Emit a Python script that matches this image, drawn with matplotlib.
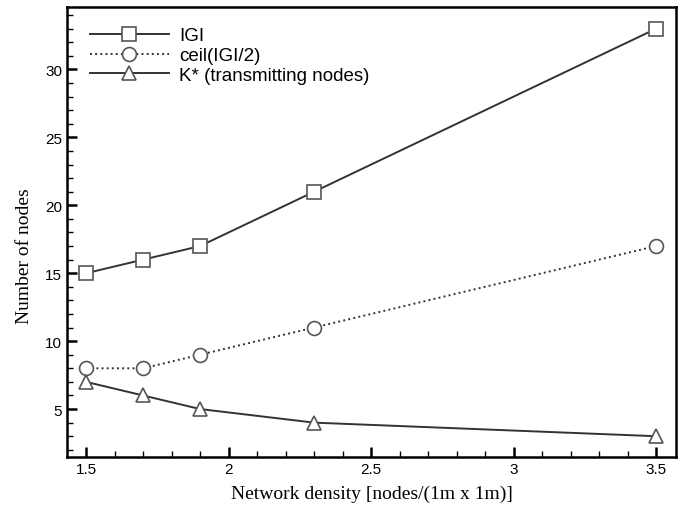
import matplotlib
matplotlib.use("Agg")
import matplotlib.pyplot as plt
from matplotlib.ticker import MultipleLocator

density = [1.5, 1.7, 1.9, 2.3, 3.5]
g_size = [15, 16, 17, 21, 33]
g_half = [8, 8, 9, 11, 17]
k_star = [7, 6, 5, 4, 3]

labels = ["IGI", "ceil(IGI/2)", "K* (transmitting nodes)"]

fig = plt.figure(figsize=(6.83, 5.10), dpi=100)
ax = fig.add_axes([67 / 683, 1 - 458 / 510, 609 / 683, 450 / 510])

line_kw = dict(color="#333333", linewidth=1.4, markersize=10,
               markerfacecolor="white", markeredgecolor="#555555", markeredgewidth=1.2)
ax.plot(density, g_size, "s-", label=labels[0], **line_kw)
ax.plot(density, g_half, "o:", label=labels[1], **line_kw)
ax.plot(density, k_star, "^-", label=labels[2], **line_kw)

ax.set_xlim(1.433, 3.57)
ax.set_ylim(1.47, 34.6)
ax.xaxis.set_minor_locator(MultipleLocator(0.1))
ax.yaxis.set_minor_locator(MultipleLocator(1))
ax.set_xticks([1.5, 2, 2.5, 3, 3.5])
ax.set_xticklabels(["1.5", "2", "2.5", "3", "3.5"])
ax.set_yticks([5, 10, 15, 20, 25, 30])
ax.tick_params(which="major", direction="in", length=7, width=1.8,
               top=False, right=False, labelsize=11)
ax.tick_params(which="minor", direction="in", length=4, width=1,
               top=False, right=False)
for lab in ax.get_xticklabels() + ax.get_yticklabels():
    lab.set_family("Liberation Sans")
for sp in ax.spines.values():
    sp.set_linewidth(1.8)

ax.set_xlabel("Network density [nodes/(1m x 1m)]", family="Liberation Serif",
              fontsize=14, labelpad=6)
ax.set_ylabel("Number of nodes", family="Liberation Serif", fontsize=14)
ax.yaxis.set_label_coords(-0.056, 0.449)

ax.legend(loc="upper left", frameon=False, handlelength=4.2, handletextpad=0.55,
          labelspacing=0.15, prop={"family": "Liberation Sans", "size": 13.5},
          bbox_to_anchor=(0.01, 0.993))

fig.savefig("out.png", dpi=100)
